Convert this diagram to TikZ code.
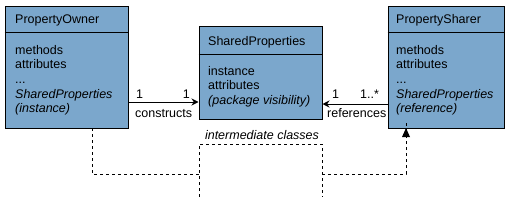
\documentclass[tikz,border=0pt]{standalone}
\usepackage{fontspec}
\setmainfont{Liberation Sans}
\usetikzlibrary{arrows.meta}
\definecolor{clsblue}{RGB}{123,167,204}
\newcommand{\linesbox}[1]{\vtop{\baselineskip=14.7pt\lineskiplimit=-10pt #1}}
\tikzset{
  cls/.style={draw=black, fill=clsblue, line width=1pt, inner sep=0pt},
  txt/.style={inner sep=0pt, anchor=base west, font=\fontsize{12.5}{14.7}\selectfont},
  lbl/.style={inner sep=0pt, font=\fontsize{12.5}{14.7}\selectfont},
  assoc/.style={line width=1pt, -{Stealth[length=7pt,width=7pt]}},
  dep/.style={line width=1pt, dash pattern=on 3pt off 3pt},
}
\begin{document}
\begin{tikzpicture}[x=1pt,y=-1pt]
\useasboundingbox (0,0) rectangle (510,206);
% boxes
\node[cls, minimum width=123pt, minimum height=122pt] (owner) at (66.5,67) {};
\node[cls, minimum width=123pt, minimum height=93pt] (shared) at (260.5,72.5) {};
\node[cls, minimum width=116pt, minimum height=122pt] (sharer) at (446,67) {};
\draw[line width=1pt] (owner.west |- 0,32) -- (owner.east |- 0,32);
\draw[line width=1pt] (shared.west |- 0,54) -- (shared.east |- 0,54);
\draw[line width=1pt] (sharer.west |- 0,32) -- (sharer.east |- 0,32);
% texts
\node[txt] (ownerT) at (15,23) {PropertyOwner};
\node[txt] (ownerB) at (15,54) {\linesbox{\hbox{methods}\hbox{attributes}\hbox{...}\hbox{\itshape SharedProperties}\hbox{\itshape (instance)}}};
\node[txt] (sharedT) at (208,45) {SharedProperties};
\node[txt] (sharedB) at (208,75) {\linesbox{\hbox{instance}\hbox{attributes}\hbox{\itshape (package visibility)}}};
\node[txt] (sharerT) at (396,23) {PropertySharer};
\node[txt] (sharerB) at (396,54) {\linesbox{\hbox{methods}\hbox{attributes}\hbox{...}\hbox{\itshape SharedProperties}\hbox{\itshape (reference)}}};
% associations
\draw[assoc] (owner.east |- 0,102) -- (shared.west |- 0,102);
\draw[assoc] (sharer.west |- 0,104) -- (shared.east |- 0,104);
\node[lbl, anchor=base west] (m1) at (136,98) {1};
\node[lbl, anchor=base east] (m2) at (190,98) {1};
\node[lbl, anchor=base west] (cons) at (135,117) {constructs};
\node[lbl, anchor=base west] (m3) at (332,98) {1};
\node[lbl, anchor=base west] (m4) at (360,98) {1..*};
\node[lbl, anchor=base west] (refs) at (327,117) {references};
% dependency path
\coordinate (a0) at (92,128);
\coordinate (a1) at (92,174);
\coordinate (b1) at (199,174);
\coordinate (b0) at (199,144);
\coordinate (b2) at (199,197);
\coordinate (c0) at (322,144);
\coordinate (c2) at (322,197);
\coordinate (c1) at (322,174);
\coordinate (e1) at (406,174);
\coordinate (e0) at (406,128);
\draw[dep] (a0) -- (a1) -- (b1);
\draw[dep] (b2) -- (b0) -- (c0) -- (c2);
\draw[dep] (c1) -- (e1) -- ([yshift=7pt]e0);
\fill (e0) -- ++(-4,9) -- ++(8,0) -- cycle;
\node[lbl, anchor=base, font=\fontsize{12.5}{14.7}\selectfont\itshape] (inter) at (262,139) {intermediate classes};
\end{tikzpicture}
\end{document}
